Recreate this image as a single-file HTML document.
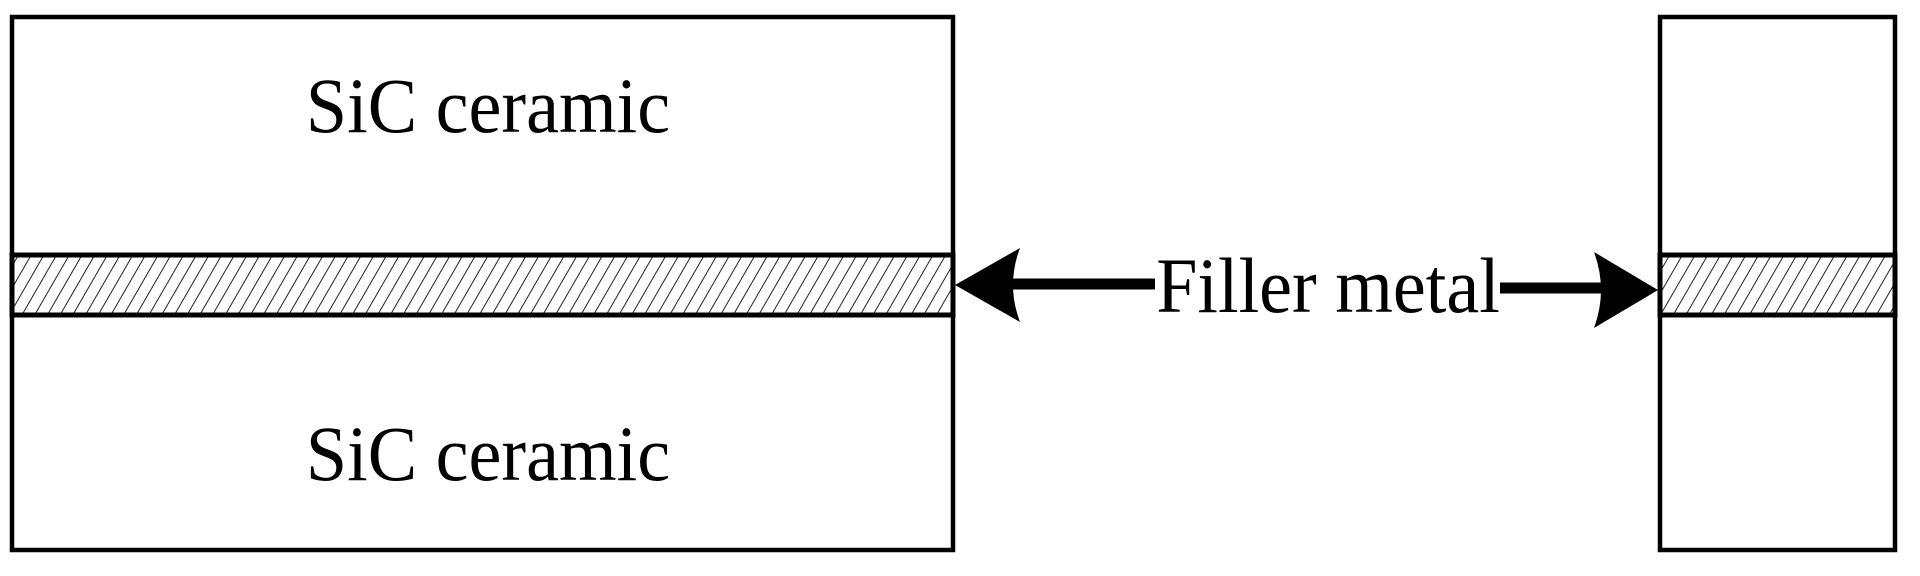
<!DOCTYPE html>
<html><head><style>html,body{margin:0;padding:0;background:#fff;}</style></head>
<body>
<svg width="1920" height="571" xmlns="http://www.w3.org/2000/svg">
<defs>
<pattern id="h" width="11" height="11" patternUnits="userSpaceOnUse" patternTransform="rotate(30)">
<rect width="11" height="11" fill="#fff"/>
<line x1="0" y1="0" x2="0" y2="11" stroke="#222" stroke-width="2"/>
</pattern>
</defs>
<rect x="0" y="0" width="1920" height="571" fill="#fff"/>
<rect x="12" y="17" width="941" height="533" fill="#fff" stroke="#000" stroke-width="4.5"/>
<rect x="12" y="255" width="941" height="60" fill="url(#h)" stroke="#000" stroke-width="5"/>
<rect x="1660" y="17" width="235" height="533" fill="#fff" stroke="#000" stroke-width="4.5"/>
<rect x="1660" y="255" width="235" height="60" fill="url(#h)" stroke="#000" stroke-width="5"/>
<g font-family="Liberation Serif, serif" font-size="78" fill="#000" text-anchor="middle">
<text x="0" y="0" transform="translate(488,132) scale(0.95,1)">SiC ceramic</text>
<text x="0" y="0" transform="translate(488,480) scale(0.95,1)">SiC ceramic</text>
<text x="0" y="0" transform="translate(1328,312) scale(0.95,1)">Filler metal</text>
</g>
<line x1="1010" y1="284" x2="1155" y2="284" stroke="#000" stroke-width="11"/>
<path d="M955,285 L1020,248 Q1006,285 1020,322 Z" fill="#000"/>
<line x1="1500" y1="288" x2="1605" y2="288" stroke="#000" stroke-width="11"/>
<path d="M1658,290 L1594,252 Q1608,290 1594,328 Z" fill="#000"/>
</svg>
</body></html>
